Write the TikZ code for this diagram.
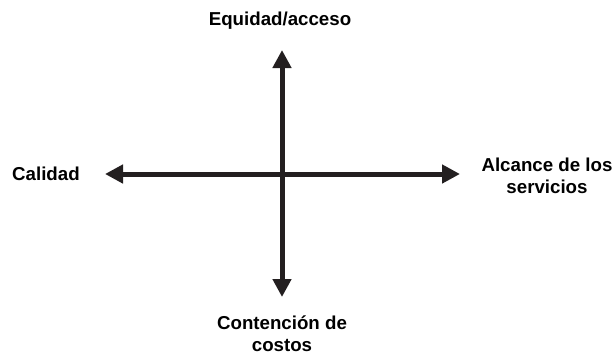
\documentclass[tikz,border=0pt]{standalone}
\usepackage{fontspec}
\setmainfont{Liberation Sans}
\usetikzlibrary{arrows.meta}
\definecolor{ink}{HTML}{231F20}
\begin{document}
\begin{tikzpicture}[x=1bp,y=-1bp,
  axis/.style={draw=ink,line width=5bp,{Triangle[width=18bp,length=18bp]}-{Triangle[width=18bp,length=18bp]}},
  lbl/.style={font=\bfseries\fontsize{18.7bp}{22bp}\selectfont,text=black,inner sep=0pt,align=center}]
\useasboundingbox (0,0) rectangle (614,354);
\coordinate (top) at (282,50);
\coordinate (bot) at (282,297);
\coordinate (lft) at (105,174);
\coordinate (rgt) at (460,174);
\draw[axis] (lft) -- (rgt);
\draw[axis] (top) -- (bot);
\node[lbl,anchor=base] (eq) at (280,25) {Equidad/acceso};
\node[lbl,anchor=base west] (cal) at (12,180) {Calidad};
\node[lbl,anchor=base] (alc) at (547,193) {Alcance de los\\servicios};
\node[lbl,anchor=base] (con) at (282,351) {Contención de\\costos};
\end{tikzpicture}
\end{document}
